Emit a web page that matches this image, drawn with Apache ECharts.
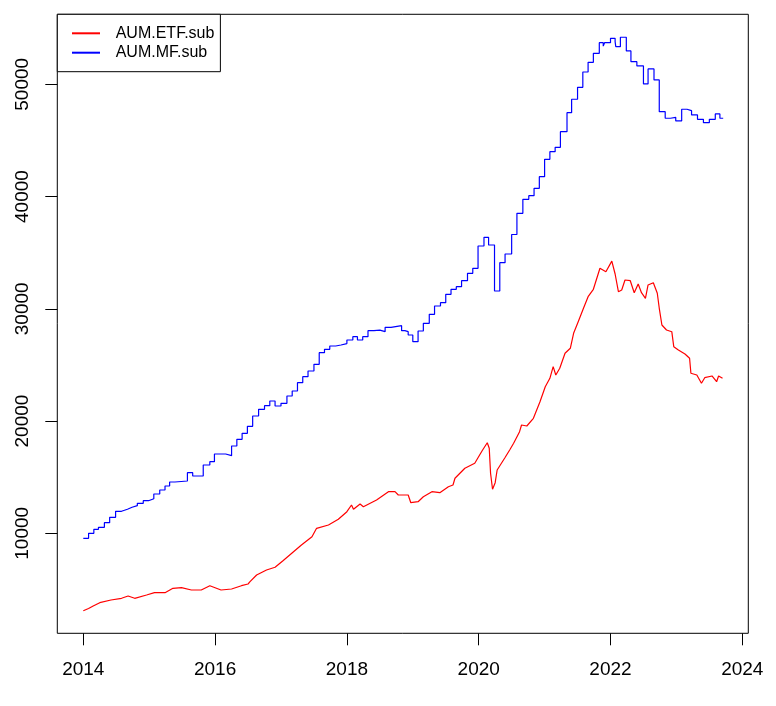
<!DOCTYPE html>
<html>
<head>
<meta charset="utf-8">
<script src="https://cdn.jsdelivr.net/npm/echarts@6/dist/echarts.min.js"></script>
<style>
html,body{margin:0;padding:0;background:#fff;}
#chart{width:776px;height:706px;}
</style>
</head>
<body>
<div id="chart"></div>
<script>
// ---- data ----
const xTicks = [2014, 2016, 2018, 2020, 2022, 2024];
const yTicks = [10000, 20000, 30000, 40000, 50000];

const etfYears = [2014.00,2014.08,2014.15,2014.25,2014.42,2014.58,2014.68,2014.78,2014.96,2015.08,2015.24,2015.36,2015.49,2015.64,2015.79,2015.92,2016.09,2016.25,2016.40,2016.50,2016.53,2016.63,2016.78,2016.91,2017.03,2017.19,2017.31,2017.47,2017.54,2017.72,2017.87,2018.00,2018.07,2018.10,2018.20,2018.25,2018.45,2018.63,2018.73,2018.78,2018.93,2018.97,2019.08,2019.16,2019.29,2019.41,2019.54,2019.61,2019.64,2019.79,2019.94,2020.05,2020.13,2020.16,2020.18,2020.21,2020.25,2020.28,2020.40,2020.47,2020.53,2020.62,2020.65,2020.73,2020.83,2020.93,2021.01,2021.08,2021.13,2021.17,2021.23,2021.31,2021.39,2021.44,2021.51,2021.59,2021.66,2021.74,2021.84,2021.93,2022.02,2022.07,2022.12,2022.17,2022.22,2022.30,2022.36,2022.42,2022.47,2022.53,2022.57,2022.65,2022.71,2022.74,2022.78,2022.85,2022.93,2022.96,2023.03,2023.13,2023.20,2023.22,2023.31,2023.38,2023.43,2023.54,2023.61,2023.64,2023.70];
const etfValues = [3105,3300,3523,3817,4058,4209,4414,4209,4503,4708,4708,5100,5153,4949,4949,5332,4949,5038,5332,5483,5688,6285,6730,6971,7559,8361,8958,9697,10445,10739,11247,11924,12521,12138,12610,12370,12967,13706,13706,13412,13412,12726,12815,13261,13706,13617,14152,14303,14900,15791,16236,17332,18071,17573,15345,13920,14508,15639,16750,17421,18018,19052,19648,19559,20245,21724,23061,23809,24843,24103,24700,26036,26482,27818,28852,30045,31079,31738,33609,33307,34250,33100,31524,31675,32566,32504,31435,32210,31435,30936,32121,32326,31382,30045,28557,28112,27960,26624,26330,25974,25591,24254,24103,23364,23862,24014,23506,24014,23809];

const mfYears = [2014.00,2014.08,2014.16,2014.23,2014.32,2014.40,2014.49,2014.58,2014.67,2014.74,2014.82,2014.91,2014.99,2015.07,2015.16,2015.24,2015.31,2015.39,2015.58,2015.66,2015.82,2015.92,2015.99,2016.16,2016.25,2016.33,2016.41,2016.49,2016.57,2016.66,2016.75,2016.83,2016.91,2017.00,2017.09,2017.17,2017.25,2017.33,2017.41,2017.50,2017.58,2017.66,2017.74,2017.83,2017.91,2018.00,2018.09,2018.16,2018.24,2018.32,2018.41,2018.50,2018.58,2018.67,2018.83,2018.88,2018.93,2019.00,2019.08,2019.16,2019.25,2019.33,2019.42,2019.50,2019.58,2019.66,2019.74,2019.83,2019.91,2019.99,2020.08,2020.15,2020.24,2020.32,2020.40,2020.50,2020.58,2020.67,2020.76,2020.84,2020.92,2021.00,2021.08,2021.16,2021.24,2021.34,2021.41,2021.50,2021.58,2021.66,2021.74,2021.83,2021.89,2021.91,2022.00,2022.07,2022.08,2022.15,2022.24,2022.31,2022.40,2022.50,2022.57,2022.66,2022.74,2022.83,2022.91,2022.99,2023.08,2023.16,2023.23,2023.32,2023.41,2023.50,2023.59,2023.66,2023.71];
const mfValues = [9555,10000,10356,10535,10944,11425,11960,12138,12316,12459,12673,12905,13083,13501,13858,14214,14570,14659,15399,15105,16085,16379,17065,16913,17777,18374,18909,19530,20450,21047,21368,21786,21341,21582,22232,22678,23417,23951,24459,25056,26090,26393,26687,26776,26900,27221,27515,27221,27515,28050,28100,27960,28352,28495,28050,27960,27667,27070,28023,28709,29511,30250,30545,31293,31738,31970,32504,33163,33609,35596,36371,35685,31587,34108,34883,36620,38509,39757,40077,40736,41770,43320,43997,44389,45779,47472,48666,49734,51097,51961,52763,53709,53400,53709,54100,53800,53352,54190,52970,52016,51633,50030,51366,50386,47561,46974,47060,46733,47775,47650,47268,46884,46581,46884,47357,46974,46974];

const seriesNames = ['AUM.ETF.sub', 'AUM.MF.sub'];

// ---- chart ----
const FONT = "'Liberation Sans', Arial, sans-serif";
const chart = echarts.init(document.getElementById('chart'), null, {renderer: 'canvas'});
const etfData = etfYears.map((x, i) => [x, etfValues[i]]);
const mfData = mfYears.map((x, i) => [x, mfValues[i]]);

chart.setOption({
  animation: false,
  backgroundColor: '#ffffff',
  grid: {
    left: 57.3, right: 27.7, top: 14.3, bottom: 72.7,
    show: true, borderColor: '#000', borderWidth: 1, backgroundColor: 'transparent',
    containLabel: false
  },
  legend: {
    left: 57.3, top: 14.3,
    orient: 'vertical',
    data: seriesNames,
    icon: 'rect',
    itemWidth: 28, itemHeight: 2, itemGap: 0,
    padding: [9.3, 6, 9.3, 14.7],
    borderColor: '#000', borderWidth: 1, backgroundColor: '#fff',
    textStyle: {fontFamily: FONT, fontSize: 16, color: '#000', lineHeight: 19.4, padding: [0, 0, 0, 10.7]},
    selectedMode: false
  },
  xAxis: {
    type: 'value', min: 2013.6055, max: 2024.091,
    axisLine: {show: false},
    splitLine: {show: false},
    axisTick: {show: true, inside: false, length: 12, lineStyle: {color: '#000', width: 1}, customValues: xTicks},
    axisLabel: {show: true, margin: 27, fontFamily: FONT, fontSize: 19, color: '#000', customValues: xTicks,
      formatter: v => String(v)}
  },
  yAxis: {
    type: 'value', min: 1091, max: 56236,
    axisLine: {show: false},
    splitLine: {show: false},
    axisTick: {show: true, inside: false, length: 12, lineStyle: {color: '#000', width: 1}, customValues: yTicks},
    axisLabel: {show: true, margin: 25, rotate: 90, fontFamily: FONT, fontSize: 19, color: '#000', customValues: yTicks,
      formatter: v => String(v)}
  },
  series: [
    {
      name: seriesNames[0], type: 'line', data: etfData,
      showSymbol: false, symbol: 'none', color: '#ff0000',
      lineStyle: {color: '#ff0000', width: 1.2}
    },
    {
      name: seriesNames[1], type: 'line', data: mfData, step: 'end',
      showSymbol: false, symbol: 'none', color: '#0000ff',
      lineStyle: {color: '#0000ff', width: 1.2}
    }
  ]
});
</script>
</body>
</html>
